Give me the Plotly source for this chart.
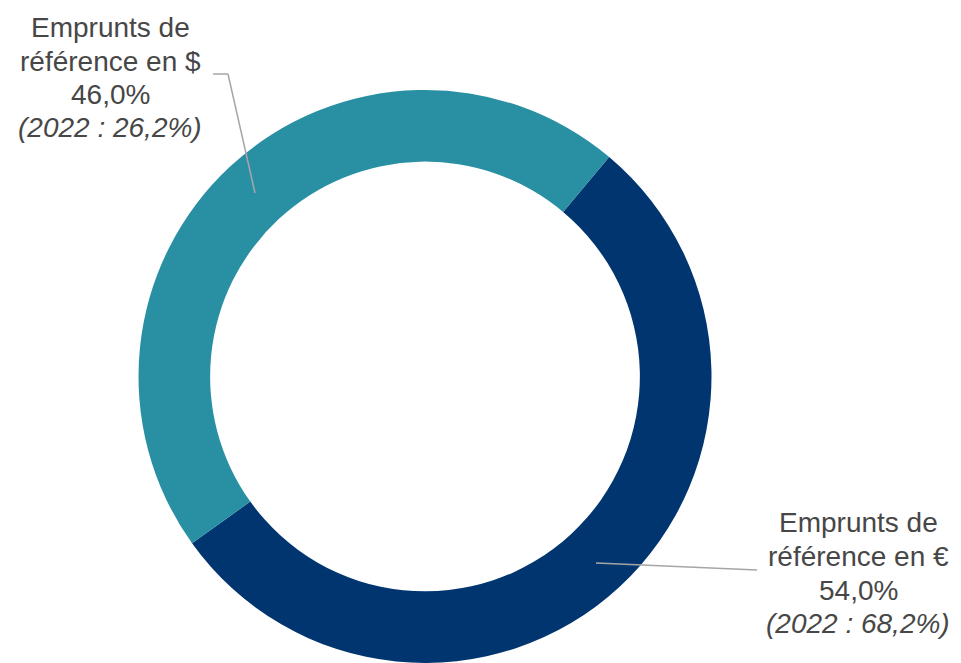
import plotly.graph_objects as go

W, H = 961, 663

labels = ["Emprunts de<br>référence en €", "Emprunts de<br>référence en $"]
values = [54.0, 46.0]
values_2022 = [68.2, 26.2]
colors = ["#003570", "#2990a4"]


def fr_pct(v):
    return f"{v:.1f}".replace(".", ",") + "%"


def px(x, y):
    return x / W, 1 - y / H


fig = go.Figure()
fig.add_trace(go.Pie(
    labels=labels, values=values,
    hole=0.75, sort=False, direction="clockwise", rotation=40,
    marker=dict(colors=colors, line=dict(width=0)),
    textinfo="none", hoverinfo="label+percent",
    domain=dict(x=[138 / W, 712 / W], y=[0, 1 - 90 / H]),
    showlegend=False,
))

# label blocks: centre x and line centres (pixels)
label_pos = [(858, [522, 556, 590, 623]), (110, [28, 61, 95, 128])]
for (lab, v, v22), (cx, ys) in zip(zip(labels, values, values_2022), label_pos):
    lines = lab.split("<br>") + [fr_pct(v), f"<i>(2022 : {fr_pct(v22)})</i>"]
    for text, yy in zip(lines, ys):
        x, y = px(cx, yy)
        fig.add_annotation(
            x=x, y=y, xref="paper", yref="paper", text=text,
            showarrow=False, xanchor="center", yanchor="middle",
            font=dict(family="Liberation Sans, Arial", size=28, color="#474747"),
        )

# leader lines
leaders = [
    [(596, 563), (757, 570)],
    [(213, 74), (228, 74), (255, 193)],
]
for pts in leaders:
    for (x0, y0), (x1, y1) in zip(pts[:-1], pts[1:]):
        a, b = px(x0, y0)
        c, d = px(x1, y1)
        fig.add_shape(type="line", xref="paper", yref="paper",
                      x0=a, y0=b, x1=c, y1=d,
                      line=dict(color="#a6a6a6", width=1.5))

fig.update_layout(
    width=W, height=H,
    margin=dict(l=0, r=0, t=0, b=0),
    paper_bgcolor="white", plot_bgcolor="white",
)
fig.write_html("out.html", config={"displayModeBar": False},
               post_script="document.body.style.margin='0';")
